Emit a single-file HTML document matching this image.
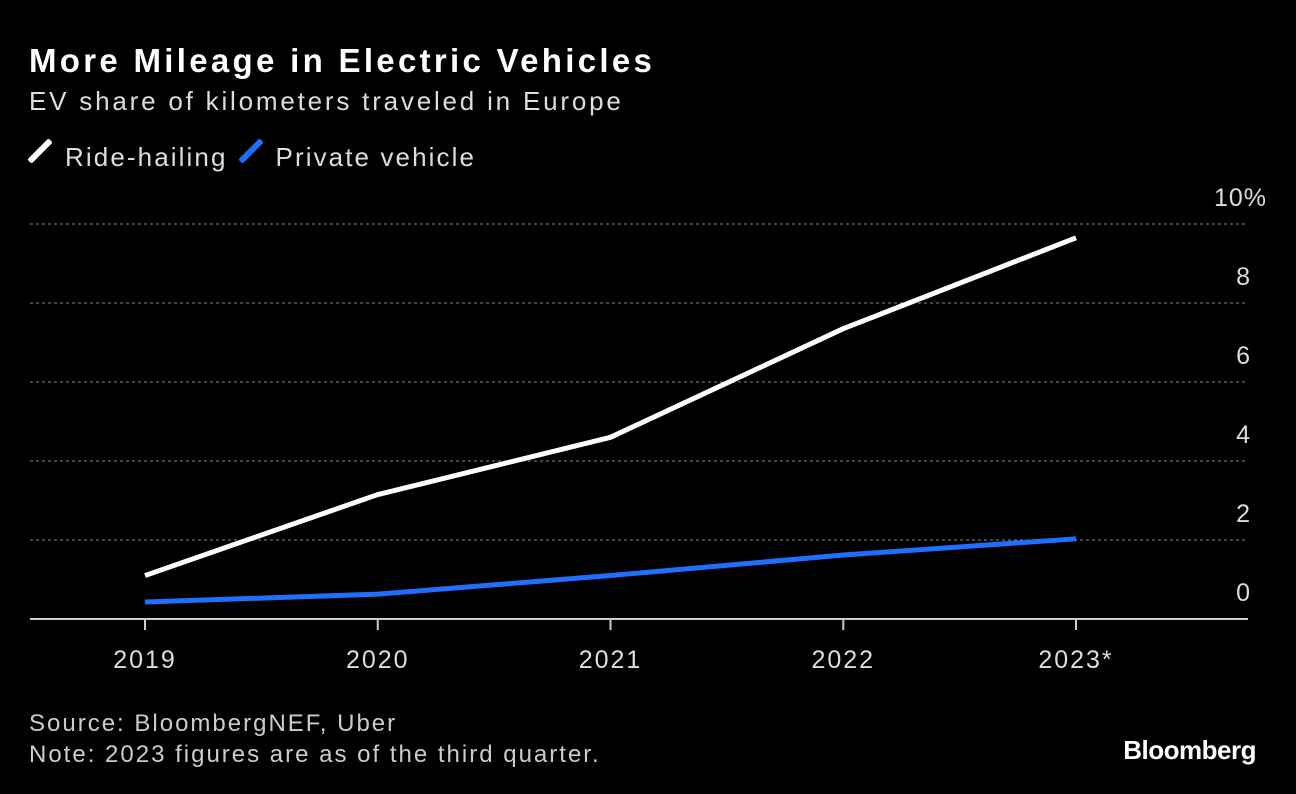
<!DOCTYPE html>
<html><head><meta charset="utf-8">
<style>
body{margin:0;background:#000;width:1296px;height:794px;overflow:hidden;font-family:"Liberation Sans",sans-serif;color:#fff}
#title{position:absolute;left:29px;top:42px;font-size:33px;font-weight:bold;letter-spacing:3.3px}
#sub{position:absolute;left:29px;top:86px;font-size:26px;color:#ddd;letter-spacing:2.8px}
#legend{position:absolute;left:29px;top:136px;font-size:26px;color:#ddd;display:flex;align-items:center;letter-spacing:2.1px}
.sw{display:inline-block;width:6px;height:30px;transform:rotate(45deg);margin:0 22px 0 8px;border-radius:2px}
#src{position:absolute;left:29px;top:708px;font-size:24px;color:#ccc;line-height:31px;letter-spacing:2px}
#logo{position:absolute;right:40px;top:735px;font-size:26px;font-weight:bold;letter-spacing:-0.5px}
svg{position:absolute;left:0;top:0}
</style></head><body>
<div id="title">More Mileage in Electric Vehicles</div>
<div id="sub">EV share of kilometers traveled in Europe</div>
<div id="legend">
<span><span class="sw" style="background:#fff"></span>Ride-hailing</span>
<span style="margin-left:12px"><span class="sw" style="background:#1f6fff"></span>Private vehicle</span>
</div>
<svg id="chart" width="1296" height="794"></svg>
<div id="src">Source: BloombergNEF, Uber<br>Note: 2023 figures are as of the third quarter.</div>
<div id="logo">Bloomberg</div>
<script>
const categories=["2019","2020","2021","2022","2023*"];
const rideHailing=[1.1,3.15,4.6,7.35,9.65];
const privateVehicle=[0.43,0.63,1.1,1.62,2.03];
const yTicks=[0,2,4,6,8,10];
const yTickLabels=["0","2","4","6","8","10%"];
const NS="http://www.w3.org/2000/svg";
const svg=document.getElementById('chart');
const x=i=>145+i*232.75;
const y=v=>619-v*39.5;
function mk(t,a){const e=document.createElementNS(NS,t);for(const k in a)e.setAttribute(k,a[k]);svg.appendChild(e);return e;}
yTicks.forEach((t,i)=>{
 if(t>0){const g=mk('line',{x1:30,x2:1248,y1:y(t),y2:y(t),stroke:'#888','stroke-dasharray':'3,3','stroke-width':1});
 
 }
 const tx=mk('text',{x:t===10?1267:1251,y:y(t)-18,'text-anchor':'end',fill:'#ddd','font-size':25,'letter-spacing':1});
 tx.textContent=yTickLabels[i];
 
 
});
const ax=mk('line',{x1:30,x2:1248,y1:619,y2:619,stroke:'#ccc','stroke-width':2});


categories.forEach((c,i)=>{
 const tk=mk('line',{x1:x(i),x2:x(i),y1:619,y2:630,stroke:'#ccc','stroke-width':2});
 
 
 const t=mk('text',{x:x(i),y:668,'text-anchor':'middle',fill:'#ddd','font-size':25,'letter-spacing':2});
 t.textContent=c;
 
 
});
function line(d,col,name){
 const p=mk('polyline',{points:d.map((v,i)=>x(i)+','+y(v)).join(' '),fill:'none',stroke:col,'stroke-width':5,'stroke-linejoin':'round'});
 
 
}
line(privateVehicle,'#1f6fff','private-vehicle-line');
line(rideHailing,'#fff','ride-hailing-line');
</script>
</body></html>
